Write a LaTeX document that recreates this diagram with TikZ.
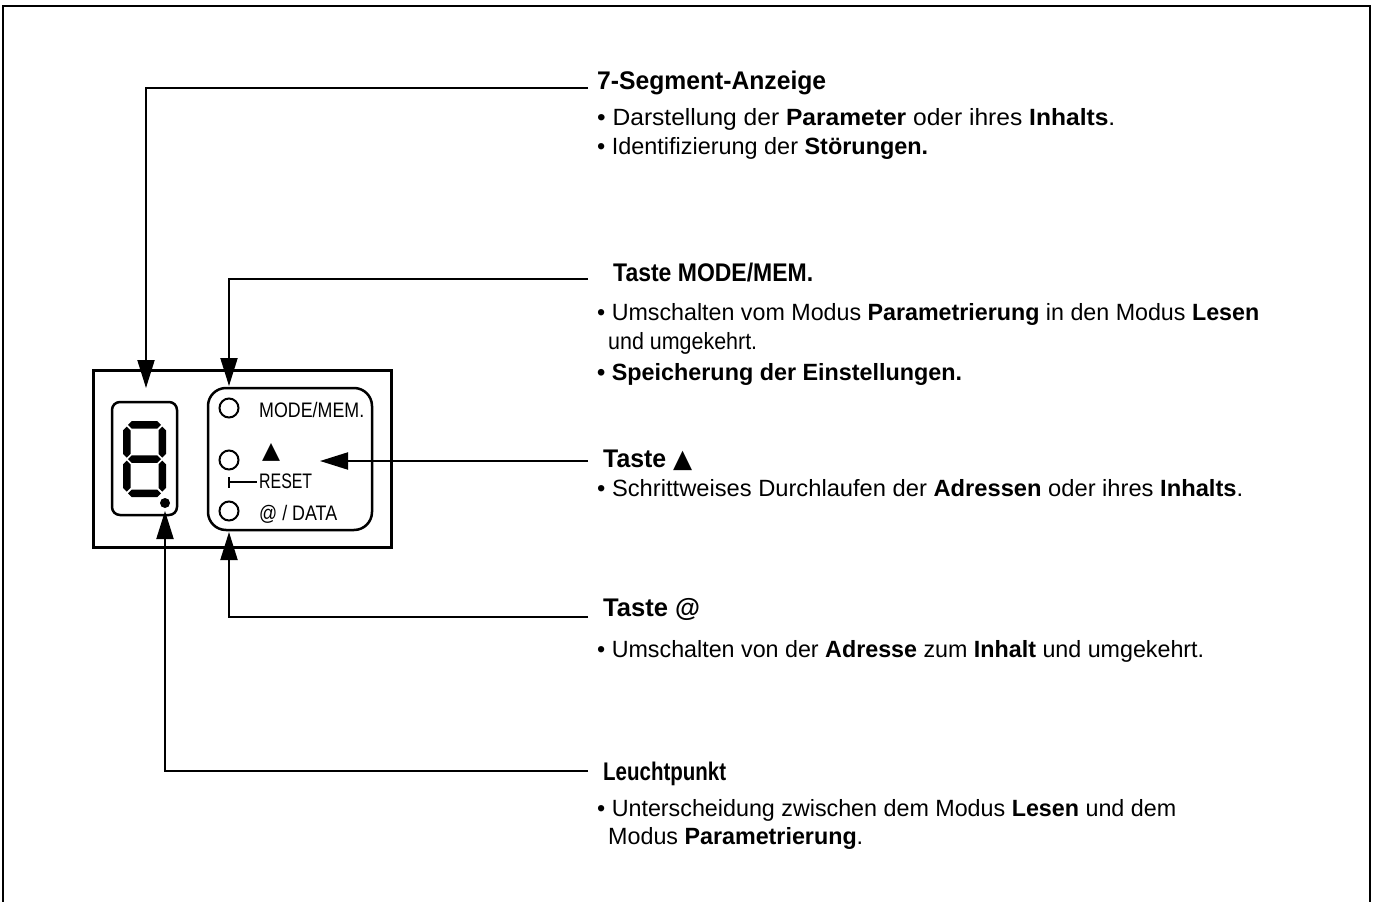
\documentclass[tikz,border=0pt]{standalone}
\usepackage{fontspec}
\setmainfont{Liberation Sans}
\newfontfamily\symfont{DejaVu Sans}
\usepackage{graphicx}
\usetikzlibrary{arrows.meta}
\newcommand\fitw[2]{\resizebox{#1pt}{\height}{#2}}
\newcommand\hseg[1]{\fill (128,#1) -- (131.75,{#1-3.75}) -- (157.25,{#1-3.75}) -- (161,#1) -- (157.25,{#1+3.75}) -- (131.75,{#1+3.75}) -- cycle;}
\newcommand\vseg[3]{\fill (#1,#2) -- ({#1+3.75},{#2+3.75}) -- ({#1+3.75},{#3-3.75}) -- (#1,#3) -- ({#1-3.75},{#3-3.75}) -- ({#1-3.75},{#2+3.75}) -- cycle;}
\begin{document}
\begin{tikzpicture}[x=1pt,y=-1pt,
  lead/.style={line width=2pt, -{Triangle[length=28pt,width=17pt]}},
  ttl/.style={anchor=base west, inner sep=0pt, font=\fontsize{25.5}{30}\selectfont\bfseries},
  body/.style={anchor=base west, inner sep=0pt, font=\fontsize{23.5}{28}\selectfont},
  panel/.style={anchor=base west, inner sep=0pt, font=\fontsize{21}{25}\selectfont},
  btn/.style={circle, draw, line width=2pt, minimum size=19pt, inner sep=0pt}
]
\useasboundingbox (0,0) rectangle (1374,902);
% outer frame (open at bottom)
\draw[line width=1.5pt] (3,902) -- (3,6) -- (1370,6) -- (1370,902);

% device
\node[draw, line width=3pt, minimum width=298pt, minimum height=177pt, inner sep=0pt] (dev) at (242,458.5) {};
\node[draw, line width=2.5pt, rounded corners=8pt, minimum width=65pt, minimum height=113pt, inner sep=0pt] (disp) at (144.5,458.5) {};
\node[draw, line width=2.5pt, rounded corners=18pt, minimum width=164pt, minimum height=142pt, inner sep=0pt] (keys) at (290,459) {};

% 7-segment digit
\hseg{424.75}
\hseg{459}
\hseg{493.25}
\vseg{126.75}{426.5}{457.5}
\vseg{162.25}{426.5}{457.5}
\vseg{126.75}{460.5}{491.5}
\vseg{162.25}{460.5}{491.5}
\node[circle, fill, minimum size=10pt, inner sep=0pt] (dot) at (165,503) {};

% buttons
\node[btn] (b1) at (229,408) {};
\node[btn] (b2) at (229,460) {};
\node[btn] (b3) at (229,511) {};
\node[panel] (l1) at (259,417) {\fitw{105}{MODE/MEM.}};
\node[inner sep=0pt] (l2) at (271,452) {\resizebox{18pt}{!}{\symfont ▲}};
\node[panel] (l3) at (259,488) {\fitw{53}{RESET}};
\node[panel] (l4) at (259,520) {\fitw{78}{@ / DATA}};
\draw[line width=1.5pt] (229,482) -- (257,482);
\draw[line width=1.5pt] (229,477) -- (229,488);

% arrow targets / line starts
\coordinate (tip1) at (146,388);
\coordinate (tip2) at (229,386);
\coordinate (tip3) at (320,461);
\coordinate (tip4) at (229,532);
\coordinate (tip5) at (165,511);
\coordinate (s1) at (588,88);
\coordinate (s2) at (588,279);
\coordinate (s3) at (588,461);
\coordinate (s4) at (588,617);
\coordinate (s5) at (588,771);

\draw[lead] (s1) -| (tip1);
\draw[lead] (s2) -| (tip2);
\draw[lead] (s3) -- (tip3);
\draw[lead] (s4) -| (tip4);
\draw[lead] (s5) -| (tip5);

% texts
\node[ttl] (t1) at (597,89) {\fitw{229}{7-Segment-Anzeige}};
\node[body] (t1a) at (597,125) {\fitw{518}{• Darstellung der \textbf{Parameter} oder ihres \textbf{Inhalts}.}};
\node[body] (t1b) at (597,154) {\fitw{331}{• Identifizierung der \textbf{Störungen.}}};

\node[ttl] (t2) at (613,281) {\fitw{200}{Taste MODE/MEM.}};
\node[body] (t2a) at (597,320) {\fitw{662}{• Umschalten vom Modus \textbf{Parametrierung} in den Modus \textbf{Lesen}}};
\node[body] (t2b) at (608,349) {\fitw{149}{und umgekehrt.}};
\node[body] (t2c) at (597,380) {\fitw{365}{\textbf{• Speicherung der Einstellungen.}}};

\node[ttl] (t3) at (603,467) {\fitw{89}{Taste {\symfont ▲}}};
\node[body] (t3a) at (597,496) {\fitw{646}{• Schrittweises Durchlaufen der \textbf{Adressen} oder ihres \textbf{Inhalts}.}};

\node[ttl] (t4) at (603,616) {\fitw{97}{Taste @}};
\node[body] (t4a) at (597,657) {\fitw{607}{• Umschalten von der \textbf{Adresse} zum \textbf{Inhalt} und umgekehrt.}};

\node[ttl] (t5) at (603,780) {\fitw{123}{Leuchtpunkt}};
\node[body] (t5a) at (597,816) {\fitw{579}{• Unterscheidung zwischen dem Modus \textbf{Lesen} und dem}};
\node[body] (t5b) at (608,844) {\fitw{255}{Modus \textbf{Parametrierung}.}};
\end{tikzpicture}
\end{document}
